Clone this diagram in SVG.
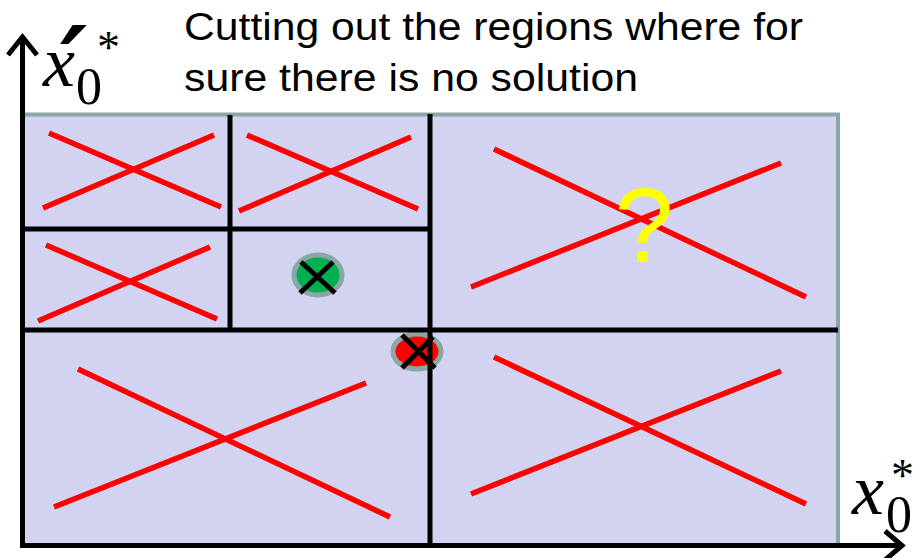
<svg xmlns="http://www.w3.org/2000/svg" width="913" height="558" viewBox="0 0 913 558">
<style>
.grid{stroke:#000;stroke-width:5;fill:none}
.cross{stroke:#ff0000;stroke-width:5.5;fill:none}
.mark{stroke:#000;stroke-width:5;fill:none}
.axis{stroke:#000;stroke-width:5;fill:none}
.title{font-family:"Liberation Sans",Arial,sans-serif;font-size:38px;fill:#000}
.var{font-family:"Liberation Serif","Times New Roman",serif;font-style:italic;font-size:72px;fill:#000}
.sub{font-family:"Liberation Serif","Times New Roman",serif;font-size:52px;fill:#000}
.sup{font-family:"Liberation Serif","Times New Roman",serif;font-size:46px;fill:#000}
</style>
<rect width="913" height="558" fill="#fff"/>
<g id="title">
<text class="title" x="184" y="40" textLength="619" lengthAdjust="spacingAndGlyphs">Cutting out the regions where for</text>
<text class="title" x="184" y="91" textLength="454" lengthAdjust="spacingAndGlyphs">sure there is no solution</text>
</g>
<g id="domain">
<rect x="22" y="114.5" width="816" height="431" fill="#d1d3f0" stroke="#8aa6a6" stroke-width="4"/>
</g>
<g id="region-top-left-1">
<line class="cross" x1="49" y1="133" x2="221" y2="207"/>
<line class="cross" x1="43" y1="208" x2="214" y2="135"/>
</g>
<g id="region-top-left-2">
<line class="cross" x1="247" y1="135" x2="418" y2="209"/>
<line class="cross" x1="239" y1="211" x2="411" y2="137"/>
</g>
<g id="region-mid-left">
<line class="cross" x1="46" y1="245" x2="217" y2="319"/>
<line class="cross" x1="38" y1="321" x2="210" y2="247"/>
</g>
<g id="region-top-right">
<line class="cross" x1="494" y1="149" x2="806" y2="297"/>
<line class="cross" x1="471" y1="287" x2="781" y2="163"/>
<text x="644" y="262" text-anchor="middle" font-family="Liberation Sans,Arial,sans-serif" font-size="106" fill="#ffff00">?</text>
</g>
<g id="region-bottom-left">
<line class="cross" x1="78" y1="369" x2="390" y2="517"/>
<line class="cross" x1="54" y1="507" x2="366" y2="383"/>
</g>
<g id="region-bottom-right">
<line class="cross" x1="494" y1="357" x2="806" y2="504"/>
<line class="cross" x1="471" y1="494" x2="781" y2="371"/>
</g>
<g id="solution-point">
<ellipse cx="318" cy="275" rx="24" ry="20" fill="#00b050" stroke="#8aa6a6" stroke-width="5"/>
<line class="mark" x1="301" y1="262" x2="335" y2="293"/>
<line class="mark" x1="300" y1="293" x2="333" y2="262"/>
</g>
<g id="rejected-point">
<ellipse cx="417" cy="351.5" rx="24" ry="17.5" fill="#ff0000" stroke="#8aa6a6" stroke-width="5"/>
</g>
<g id="connectors">
<line class="grid" x1="430" y1="114" x2="430" y2="548"/>
<line class="grid" x1="22" y1="330" x2="838" y2="330"/>
<line class="grid" x1="230" y1="115" x2="230" y2="332"/>
<line class="grid" x1="22" y1="229" x2="432" y2="229"/>
<line class="mark" x1="402" y1="335" x2="435" y2="368"/>
<line class="mark" x1="402" y1="368" x2="433" y2="337"/>
<path class="axis" d="M22.5 548 V38 M8 55 L22.5 37 L37 55"/>
<path class="axis" d="M20 545.5 H902 M885 531 L902 545.5 L885 560"/>
</g>
<g id="label-y">
<text class="var" x="43" y="86">x</text>
<text class="sub" x="76" y="104">0</text>
<text x="60" y="101" font-family="DejaVu Serif,serif" font-weight="bold" font-style="italic" font-size="104" fill="#000">′</text>
<text class="sup" x="97" y="63">*</text>
</g>
<g id="label-x">
<text class="var" x="852" y="514">x</text>
<text class="sub" x="886" y="532">0</text>
<text class="sup" x="891" y="491">*</text>
</g>
</svg>
